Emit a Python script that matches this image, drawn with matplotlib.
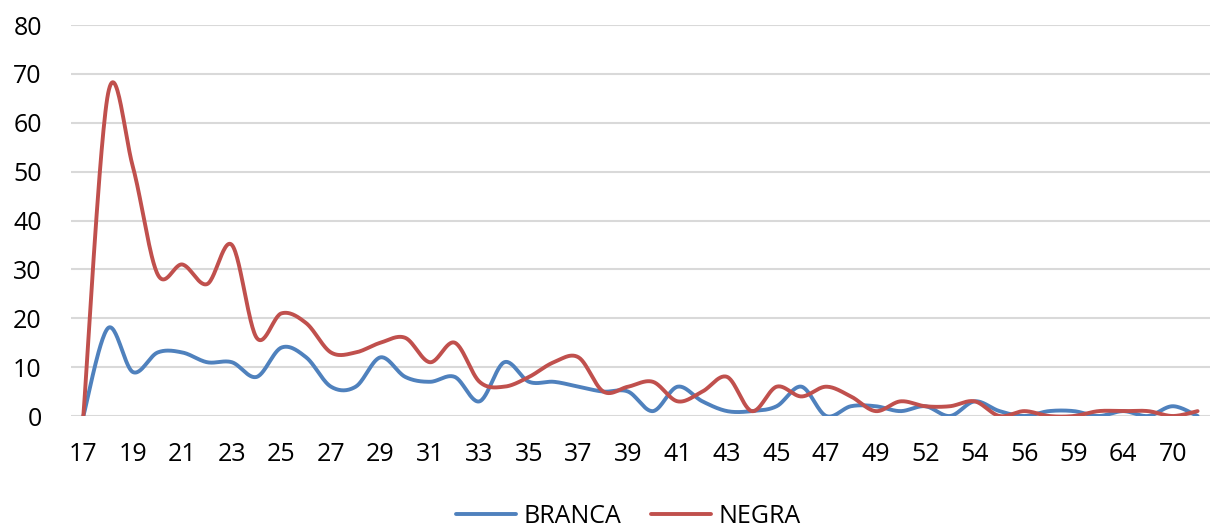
import numpy as np
import matplotlib
matplotlib.use("Agg")
import matplotlib.pyplot as plt

# idades (eixo categórico) e contagens por cor
idades = ["17", "18", "19", "20", "21", "22", "23", "24", "25", "26", "27", "28",
          "29", "30", "31", "32", "33", "34", "35", "36", "37", "38", "39", "40",
          "41", "42", "43", "44", "45", "46", "47", "48", "49", "50", "52", "53",
          "54", "55", "56", "58", "59", "61", "64", "66", "70", "73"]
branca = [0, 18, 9, 13, 13, 11, 11, 8, 14, 12, 6, 6, 12, 8, 7, 8, 3, 11, 7, 7,
          6, 5, 5, 1, 6, 3, 1, 1, 2, 6, 0, 2, 2, 1, 2, 0, 3, 1, 0, 1, 1, 0, 1,
          0, 2, 0]
negra = [0, 66, 51, 29, 31, 27, 35, 16, 21, 19, 13, 13, 15, 16, 11, 15, 7, 6,
         8, 11, 12, 5, 6, 7, 3, 5, 8, 1, 6, 4, 6, 4, 1, 3, 2, 2, 3, 0, 1, 0, 0,
         1, 1, 1, 0, 1]

cor_branca = "#4F81BD"
cor_negra = "#C0504D"


def suavizar(y, n=30):
    # linha suavizada tipo Excel (Bezier cúbica / Catmull-Rom)
    y = np.asarray(y, dtype=float)
    x = np.arange(len(y), dtype=float)
    px = np.concatenate([[x[0]], x, [x[-1]]])
    py = np.concatenate([[y[0]], y, [y[-1]]])
    t = np.linspace(0, 1, n)[:, None]
    pts = []
    for i in range(len(y) - 1):
        p0 = np.array([px[i], py[i]])
        p1 = np.array([px[i + 1], py[i + 1]])
        p2 = np.array([px[i + 2], py[i + 2]])
        p3 = np.array([px[i + 3], py[i + 3]])
        c1 = p1 + (p2 - p0) / 6
        c2 = p2 - (p3 - p1) / 6
        pts.append((1 - t) ** 3 * p1 + 3 * (1 - t) ** 2 * t * c1
                   + 3 * (1 - t) * t ** 2 * c2 + t ** 3 * p2)
    pts = np.concatenate(pts)
    return pts[:, 0], pts[:, 1]


plt.rcParams["font.family"] = ["Open Sans", "DejaVu Sans"]

fig = plt.figure(figsize=(12.13, 5.29), dpi=100)
ax = fig.add_axes([0.0585, 0.2136, 0.939, 0.7391])

xb, yb = suavizar(branca)
xn, yn = suavizar(negra)
ax.plot(xb, yb, color=cor_branca, lw=2.8, label="BRANCA", solid_capstyle="round")
ax.plot(xn, yn, color=cor_negra, lw=2.8, label="NEGRA", solid_capstyle="round")

ax.set_xlim(-0.5, len(idades) - 0.5)
ax.set_ylim(0, 80)
ax.set_yticks(range(0, 81, 10))
pos = np.arange(len(idades))
ax.set_xticks(pos[::2])
ax.set_xticklabels(idades[::2])
ax.yaxis.grid(True, color="#D9D9D9", lw=1.5)
ax.set_axisbelow(True)
for s in ax.spines.values():
    s.set_visible(False)
ax.tick_params(axis="both", length=0, labelsize=18, colors="#000000")
ax.tick_params(axis="y", pad=21)
ax.tick_params(axis="x", pad=19)

fig.legend(loc="center", bbox_to_anchor=(0.518, 0.024), ncol=2, frameon=False,
           fontsize=18, handlelength=2.4, handletextpad=0.3, columnspacing=1.2)

fig.savefig("out.png", dpi=100)
